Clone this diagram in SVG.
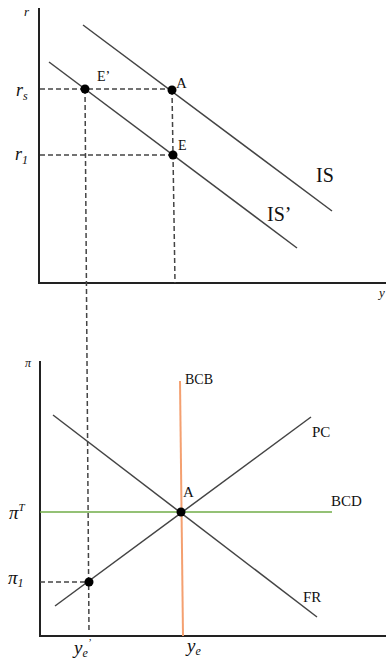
<svg xmlns="http://www.w3.org/2000/svg" width="386" height="660" viewBox="0 0 386 660">
<style>
.axis{stroke:#222;stroke-width:2;fill:none}
.curve{stroke:#444;stroke-width:1.5;fill:none}
.dash{stroke:#444;stroke-width:1.5;stroke-dasharray:5 3;fill:none}
.pt{fill:#000}
.lbl{font-family:"Liberation Serif","DejaVu Serif",serif;fill:#111}
.math{font-family:"Liberation Serif","DejaVu Serif",serif;font-style:italic;fill:#111}
</style>
<rect width="386" height="660" fill="#fff"/>
<g id="axes">
<polyline class="axis" points="39,8 39,283 386,283"/>
<polyline class="axis" points="40,361 40,636 386,636"/>
<text class="math" x="24" y="16" font-size="13">r</text>
<text class="math" x="379" y="297" font-size="13">y</text>
<text class="math" x="25" y="367" font-size="12">π</text>
</g>
<g id="connectors">
<line class="dash" x1="40" y1="89" x2="172" y2="89"/>
<line class="dash" x1="40" y1="155" x2="173" y2="155"/>
<line class="dash" x1="85" y1="89" x2="89" y2="632"/>
<line class="dash" x1="172" y1="90" x2="175" y2="283"/>
<line class="dash" x1="40" y1="582" x2="89" y2="582"/>
</g>
<g id="IS">
<line class="curve" x1="83" y1="25" x2="332" y2="211"/>
<text class="lbl" x="316" y="182" font-size="20">IS</text>
</g>
<g id="IS-prime">
<line class="curve" x1="49" y1="62" x2="297" y2="248"/>
<text class="lbl" x="267" y="221" font-size="20">IS’</text>
</g>
<g id="point-E-prime">
<circle class="pt" cx="85" cy="89" r="4.5"/>
<text class="lbl" x="97" y="81" font-size="14">E’</text>
</g>
<g id="point-A-top">
<circle class="pt" cx="172" cy="90" r="4.5"/>
<text class="lbl" x="176" y="88" font-size="15">A</text>
</g>
<g id="point-E">
<circle class="pt" cx="173" cy="155" r="4.5"/>
<text class="lbl" x="178" y="150" font-size="14">E</text>
</g>
<g id="r-labels">
<text class="math" x="16" y="96" font-size="18">r<tspan font-size="12" dy="4">s</tspan></text>
<text class="math" x="15" y="160" font-size="18">r<tspan font-size="12" dy="4">1</tspan></text>
</g>
<g id="BCD">
<line x1="40" y1="512" x2="332" y2="512" stroke="#70ad47" stroke-width="1.5"/>
<text class="lbl" x="331" y="506" font-size="15">BCD</text>
</g>
<g id="BCB">
<line x1="180" y1="381" x2="183" y2="636" stroke="#f4a070" stroke-width="2"/>
<text class="lbl" x="185" y="384" font-size="14">BCB</text>
</g>
<g id="PC">
<line class="curve" x1="55" y1="606" x2="311" y2="417"/>
<text class="lbl" x="312" y="437" font-size="15">PC</text>
</g>
<g id="FR">
<line class="curve" x1="53" y1="415" x2="317" y2="617"/>
<text class="lbl" x="303" y="602" font-size="15">FR</text>
</g>
<g id="point-A-bottom">
<circle class="pt" cx="181" cy="512" r="4.5"/>
<text class="lbl" x="183" y="497" font-size="15">A</text>
</g>
<g id="point-1">
<circle class="pt" cx="89" cy="582" r="4.5"/>
</g>
<g id="pi-labels">
<text class="math" x="9" y="519" font-size="19">π<tspan font-size="11" dy="-8">T</tspan></text>
<text class="math" x="8" y="584" font-size="19">π<tspan font-size="12" dy="3">1</tspan></text>
</g>
<g id="y-labels">
<text class="math" x="74" y="654" font-size="19">y<tspan font-size="12" dy="3">e</tspan><tspan font-size="10" dy="-11">’</tspan></text>
<text class="math" x="187" y="652" font-size="19">y<tspan font-size="12" dy="3">e</tspan></text>
</g>
</svg>
